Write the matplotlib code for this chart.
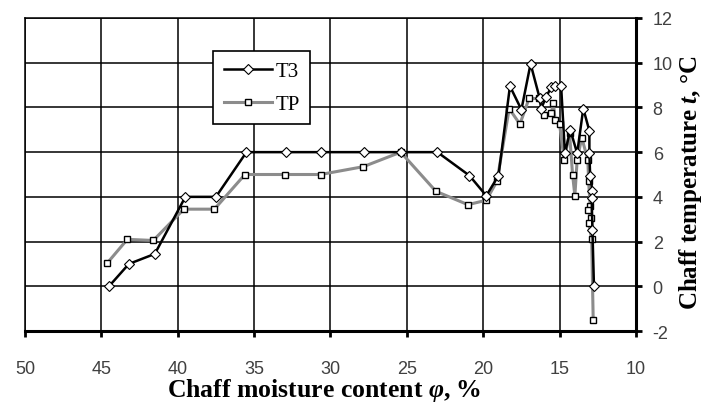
import matplotlib.pyplot as plt
from matplotlib.ticker import MultipleLocator

plt.rcParams['axes.unicode_minus'] = False
plt.rcParams['mathtext.fontset'] = 'custom'
plt.rcParams['mathtext.rm'] = 'Liberation Serif'
plt.rcParams['mathtext.bf'] = 'Liberation Serif:bold'
plt.rcParams['mathtext.bfit'] = 'Liberation Serif:italic:bold'

# chaff moisture content (%) and temperature (deg C)
t3_x = [44.5, 43.2, 41.5, 39.5, 37.5, 35.5, 32.9, 30.6, 27.8, 25.4, 23.0, 20.9, 19.8, 19.0,
        18.25, 17.5, 16.9, 16.3, 16.2, 15.9, 15.55, 15.3, 14.9, 14.65, 14.3, 13.85, 13.45,
        13.05, 13.05, 13.0, 12.85, 12.9, 12.85, 12.75]
t3_y = [0.0, 1.0, 1.45, 4.0, 4.0, 6.0, 6.0, 6.0, 6.0, 6.0, 6.0, 4.95, 4.05, 4.95,
        8.95, 7.9, 9.95, 8.4, 7.95, 8.45, 8.9, 8.95, 8.95, 5.95, 7.0, 5.95, 7.95,
        6.95, 5.95, 4.95, 4.25, 3.95, 2.5, 0.0]

tp_x = [44.6, 43.3, 41.6, 39.6, 37.6, 35.6, 33.0, 30.65, 27.85, 25.4, 23.1, 21.0, 19.8, 19.1,
        18.3, 17.6, 17.0, 16.35, 16.0, 15.55, 15.4, 15.3, 15.0, 14.7, 14.35, 14.15, 14.0,
        13.85, 13.55, 13.15, 13.1, 13.0, 13.15, 12.95, 13.1, 12.9, 12.8]
tp_y = [1.05, 2.1, 2.05, 3.45, 3.45, 5.0, 5.0, 5.0, 5.35, 6.0, 4.25, 3.65, 3.85, 4.7,
        7.95, 7.25, 8.4, 8.4, 7.65, 7.75, 8.2, 7.45, 7.25, 5.65, 6.85, 5.0, 4.05,
        5.65, 6.65, 5.65, 4.7, 3.6, 3.4, 3.05, 2.85, 2.1, -1.5]

fig = plt.figure(figsize=(7.06, 4.10), dpi=100)
ax = fig.add_axes([0.0354, 0.1902, 0.8654, 0.7635])

ax.plot(tp_x, tp_y, color='#8c8c8c', lw=2.2, marker='s', ms=5, mfc='white',
        mec='black', mew=1.0, label='TP', zorder=3)
ax.plot(t3_x, t3_y, color='black', lw=1.8, marker='D', ms=5.5, mfc='white',
        mec='black', mew=0.8, label='T3', zorder=4)

ax.set_xlim(50, 10)
ax.set_ylim(-2, 12)
ax.xaxis.set_major_locator(MultipleLocator(5))
ax.yaxis.set_major_locator(MultipleLocator(2))
ax.grid(True, color='black', lw=1.1)
ax.set_axisbelow(True)

ax.yaxis.tick_right()
for s in ['left', 'top']:
    ax.spines[s].set_linewidth(1.1)
for s in ['bottom', 'right']:
    ax.spines[s].set_linewidth(2.2)
ax.tick_params(axis='both', direction='out', length=4, width=2, colors='black',
               labelcolor='#404040', labelsize=13)
ax.tick_params(axis='x', pad=17)
ax.tick_params(axis='y', pad=8)
for lab in ax.get_xticklabels() + ax.get_yticklabels():
    lab.set_family('Liberation Sans')

h, l = ax.get_legend_handles_labels()
leg = ax.legend(h[::-1], l[::-1], loc='upper left', bbox_to_anchor=(0.308, 0.895),
                borderaxespad=0, fancybox=False, framealpha=1, edgecolor='black',
                prop={'family': 'Liberation Serif', 'size': 15}, handlelength=2.3,
                labelspacing=0.65, borderpad=0.5, handletextpad=0.2)
leg.get_frame().set_linewidth(1.2)

fig.text(0.459, 0.032, r'Chaff moisture content $\mathbfit{φ}$, %', ha='center',
         va='baseline', family='Liberation Serif', weight='bold', fontsize=18.5)
fig.text(0.978, 0.553, r'Chaff temperature $\mathbfit{t}$, °C', rotation=90, ha='center',
         va='center', family='Liberation Serif', weight='bold', fontsize=18)

fig.savefig('out.png', dpi=100)
